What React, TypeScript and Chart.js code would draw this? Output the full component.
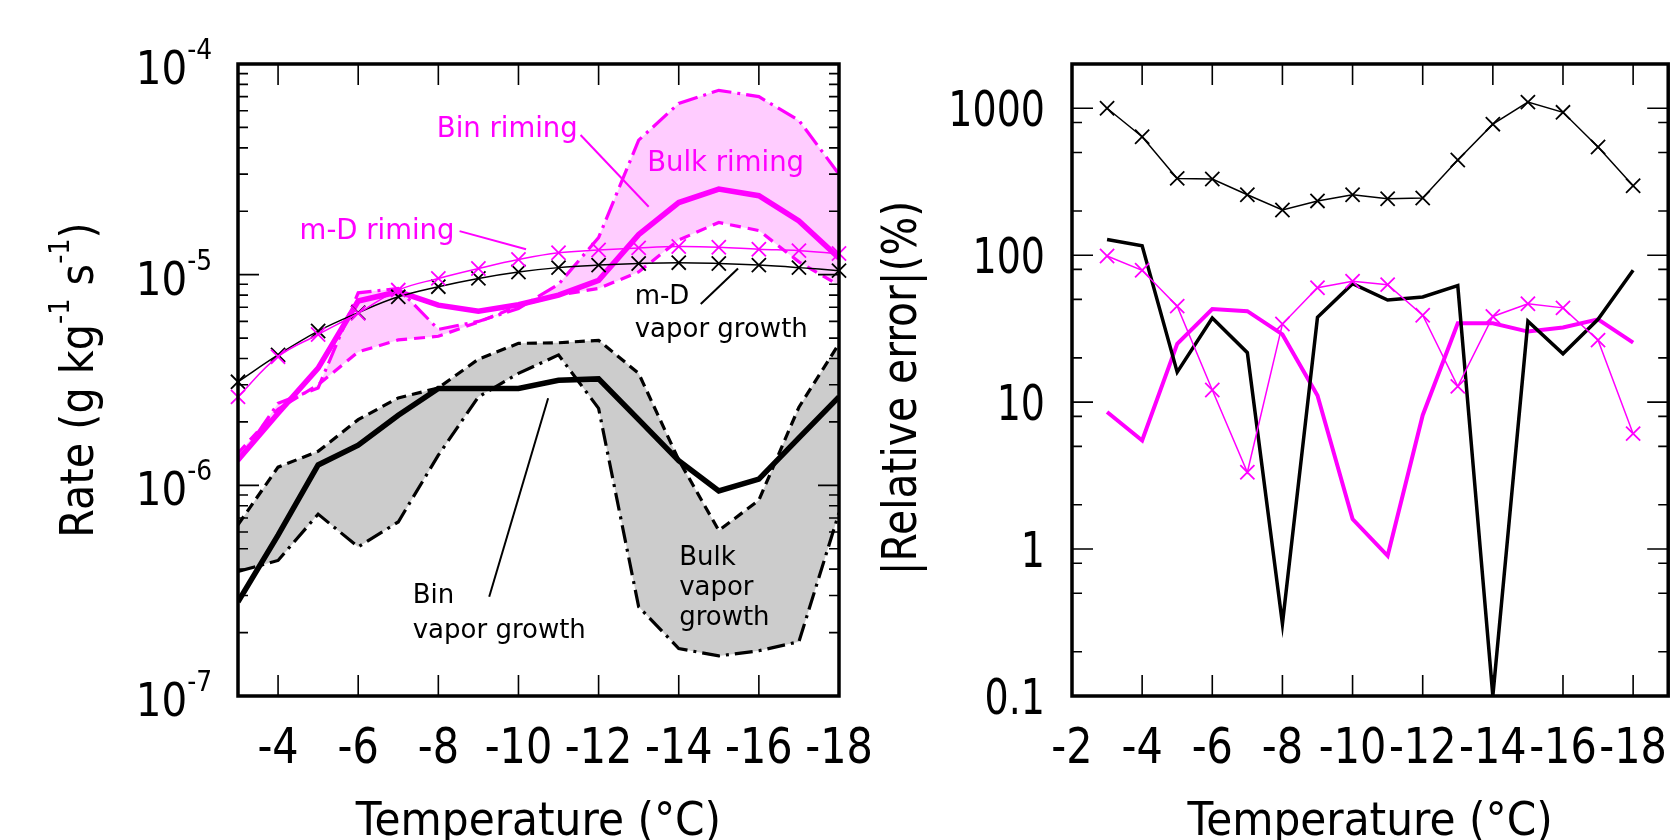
import React, { useEffect, useRef } from "react";
import { Chart, registerables } from "chart.js";

Chart.register(...registerables);

const FONT = '"DejaVu Sans", "Noto Sans", sans-serif';
const MAGENTA = "#ff00ff";
const BLACK = "#000000";

// Temperatures (°C) of the evaluated points
const temperatures = [-3, -4, -5, -6, -7, -8, -9, -10, -11, -12, -13, -14, -15, -16, -17, -18];

// Vapor growth rates (g kg-1 s-1)
const binVaporGrowth = [2.8e-7, 5.8e-7, 1.25e-6, 1.55e-6, 2.15e-6, 2.88e-6, 2.88e-6, 2.88e-6, 3.15e-6, 3.2e-6, 2.05e-6, 1.31e-6, 9.4e-7, 1.07e-6, 1.68e-6, 2.63e-6];
const bulkVaporGrowthA = [6.5e-7, 1.22e-6, 1.45e-6, 2.05e-6, 2.6e-6, 2.9e-6, 3.97e-6, 4.72e-6, 4.75e-6, 4.88e-6, 3.4e-6, 1.32e-6, 6.1e-7, 8.5e-7, 2.35e-6, 4.7e-6];
const bulkVaporGrowthB = [3.9e-7, 4.4e-7, 7.3e-7, 5.1e-7, 6.7e-7, 1.39e-6, 2.63e-6, 3.4e-6, 4.16e-6, 2.32e-6, 2.65e-7, 1.68e-7, 1.55e-7, 1.64e-7, 1.81e-7, 7.4e-7];
const mdVaporGrowth = [3.1e-6, 4.16e-6, 5.4e-6, 6.6e-6, 7.85e-6, 8.77e-6, 9.6e-6, 1.03e-5, 1.08e-5, 1.11e-5, 1.13e-5, 1.14e-5, 1.13e-5, 1.11e-5, 1.08e-5, 1.045e-5];

// Riming rates (g kg-1 s-1)
const binRiming = [1.32e-6, 2.2e-6, 3.6e-6, 7.5e-6, 8.3e-6, 7.17e-6, 6.7e-6, 7.2e-6, 8.0e-6, 9.4e-6, 1.55e-5, 2.2e-5, 2.55e-5, 2.37e-5, 1.8e-5, 1.2e-5];
const bulkRimingA = [1.42e-6, 2.3e-6, 3.0e-6, 4.3e-6, 4.9e-6, 5.1e-6, 5.96e-6, 7.1e-6, 8.0e-6, 8.6e-6, 1.03e-5, 1.46e-5, 1.77e-5, 1.62e-5, 1.15e-5, 8.9e-6];
const bulkRimingB = [1.3e-6, 2.45e-6, 2.9e-6, 8.2e-6, 8.6e-6, 5.5e-6, 6.0e-6, 6.9e-6, 9.0e-6, 1.5e-5, 4.35e-5, 6.5e-5, 7.5e-5, 7.0e-5, 5.4e-5, 3.0e-5];
const mdRiming = [2.63e-6, 4.08e-6, 5.2e-6, 6.56e-6, 8.45e-6, 9.6e-6, 1.07e-5, 1.18e-5, 1.27e-5, 1.31e-5, 1.34e-5, 1.36e-5, 1.35e-5, 1.32e-5, 1.3e-5, 1.26e-5];

// |Relative error| (%) against the bin scheme
const mdVaporError = [1000, 640, 333, 330, 258, 203, 234, 258, 242, 245, 444, 779, 1100, 938, 545, 297];
const bulkVaporError = [128, 116, 16, 37.3, 21.7, 0.31, 37.8, 64, 49.5, 52, 62, 0.1, 35.5, 21.3, 36.6, 78.9];
const bulkRimingError = [8.57, 5.48, 24.9, 43, 41.6, 28.9, 11.1, 1.6, 0.9, 8.15, 34.4, 34.4, 30.2, 32.2, 36.6, 25.4];
const mdRimingError = [98.7, 78.9, 45, 12.1, 3.33, 34, 60, 66.4, 63, 39, 12.8, 38.3, 46.7, 43.8, 26.4, 6.1];

// Axis ticks
const rateExponents = [-7, -6, -5, -4];
const leftTempTicks = [-4, -6, -8, -10, -12, -14, -16, -18];
const rightTempTicks = [-2, -4, -6, -8, -10, -12, -14, -16, -18];
const errorTicks = [0.1, 1, 10, 100, 1000];
const errorTickLabels = ["0.1", "1", "10", "100", "1000"];

type Run = { t: string; sup?: boolean };
type TextStyle = { size: number; supSize?: number; rise?: number; sx: number; color: string };
type Note = { text: string; t: number; v: number; align: "left" | "center"; color: string; size: number };
type Leader = { t1: number; v1: number; t2: number; v2: number; color: string };

// Labels placed in data coordinates (temperature, rate)
const rateNotes: Note[] = [
  { text: "Bin riming", t: -9.72, v: 4.49e-5, align: "center", color: MAGENTA, size: 27.5 },
  { text: "Bulk riming", t: -15.17, v: 3.12e-5, align: "center", color: MAGENTA, size: 27.5 },
  { text: "m-D riming", t: -6.47, v: 1.47e-5, align: "center", color: MAGENTA, size: 27.5 },
  { text: "m-D", t: -12.9, v: 7.26e-6, align: "left", color: BLACK, size: 26 },
  { text: "vapor growth", t: -12.9, v: 5.04e-6, align: "left", color: BLACK, size: 26 },
  { text: "Bin", t: -7.36, v: 2.75e-7, align: "left", color: BLACK, size: 26 },
  { text: "vapor growth", t: -7.36, v: 1.88e-7, align: "left", color: BLACK, size: 26 },
  { text: "Bulk", t: -14.01, v: 4.19e-7, align: "left", color: BLACK, size: 26 },
  { text: "vapor", t: -14.01, v: 3.02e-7, align: "left", color: BLACK, size: 26 },
  { text: "growth", t: -14.01, v: 2.17e-7, align: "left", color: BLACK, size: 26 },
];
const rateLeaders: Leader[] = [
  { t1: -11.55, v1: 4.6e-5, t2: -13.25, v2: 2.1e-5, color: MAGENTA },
  { t1: -8.53, v1: 1.61e-5, t2: -10.19, v2: 1.32e-5, color: MAGENTA },
  { t1: -14.55, v1: 7.26e-6, t2: -15.48, v2: 1.07e-5, color: BLACK },
  { t1: -9.27, v1: 2.96e-7, t2: -10.74, v2: 2.59e-6, color: BLACK },
];

const fontOf = (size: number) => `${size}px ${FONT}`;

function drawRuns(ctx: CanvasRenderingContext2D, runs: Run[], x: number, y: number, align: "left" | "center" | "right", st: TextStyle) {
  const widths = runs.map((r) => {
    ctx.font = fontOf(r.sup ? st.supSize! : st.size);
    return ctx.measureText(r.t).width * st.sx;
  });
  const total = widths.reduce((a, b) => a + b, 0);
  let cx = align === "left" ? x : align === "center" ? x - total / 2 : x - total;
  ctx.fillStyle = st.color;
  ctx.textAlign = "left";
  ctx.textBaseline = "alphabetic";
  runs.forEach((r, i) => {
    ctx.save();
    ctx.font = fontOf(r.sup ? st.supSize! : st.size);
    ctx.translate(cx, y - (r.sup ? st.rise! : 0));
    ctx.scale(st.sx, 1);
    ctx.fillText(r.t, 0, 0);
    ctx.restore();
    cx += widths[i];
  });
}

interface PanelSpec {
  xTicks: number[];
  yMajor: number[];
  yMinor: number[];
  yLabels: Run[][];
  yLabelStyle: TextStyle;
  yLabelGap: number;
  yLabelDrop: number;
  yTitle: Run[];
  yTitleX: number;
  yTitleY: number;
  yTitleStyle: TextStyle;
  notes?: Note[];
  leaders?: Leader[];
}

const xLabelStyle: TextStyle = { size: 49, sx: 0.845, color: BLACK };
const xTitleStyle: TextStyle = { size: 46, sx: 0.92, color: BLACK };

function framePlugin(spec: PanelSpec) {
  return {
    id: "frame",
    afterDatasetsDraw(chart: any) {
      const { ctx, chartArea: a, scales } = chart;
      const xs = scales.x;
      const ys = scales.y;
      ctx.save();

      // leader lines and notes
      (spec.leaders || []).forEach((l) => {
        ctx.beginPath();
        ctx.strokeStyle = l.color;
        ctx.lineWidth = 2;
        ctx.moveTo(xs.getPixelForValue(l.t1), ys.getPixelForValue(l.v1));
        ctx.lineTo(xs.getPixelForValue(l.t2), ys.getPixelForValue(l.v2));
        ctx.stroke();
      });
      (spec.notes || []).forEach((n) => {
        drawRuns(ctx, [{ t: n.text }], xs.getPixelForValue(n.t), ys.getPixelForValue(n.v), n.align, {
          size: n.size,
          sx: 1,
          color: n.color,
        });
      });

      // inward ticks on all four sides
      ctx.strokeStyle = BLACK;
      ctx.lineWidth = 1.6;
      ctx.beginPath();
      spec.xTicks.forEach((t) => {
        const px = xs.getPixelForValue(t);
        ctx.moveTo(px, a.bottom);
        ctx.lineTo(px, a.bottom - 21);
        ctx.moveTo(px, a.top);
        ctx.lineTo(px, a.top + 21);
      });
      const yTick = (v: number, len: number) => {
        const py = ys.getPixelForValue(v);
        ctx.moveTo(a.left, py);
        ctx.lineTo(a.left + len, py);
        ctx.moveTo(a.right, py);
        ctx.lineTo(a.right - len, py);
      };
      spec.yMajor.forEach((v) => yTick(v, 21));
      spec.yMinor.forEach((v) => yTick(v, 10));
      ctx.stroke();

      // frame
      ctx.lineWidth = 3.5;
      ctx.strokeRect(a.left, a.top, a.right - a.left, a.bottom - a.top);

      // tick labels
      spec.xTicks.forEach((t) => {
        drawRuns(ctx, [{ t: String(t) }], xs.getPixelForValue(t), a.bottom + 67, "center", xLabelStyle);
      });
      spec.yMajor.forEach((v, i) => {
        drawRuns(ctx, spec.yLabels[i], a.left - spec.yLabelGap, ys.getPixelForValue(v) + spec.yLabelDrop, "right", spec.yLabelStyle);
      });

      // axis titles
      drawRuns(ctx, [{ t: "Temperature (°C)" }], (a.left + a.right) / 2, a.bottom + 139, "center", xTitleStyle);
      ctx.save();
      ctx.translate(spec.yTitleX, spec.yTitleY);
      ctx.rotate(-Math.PI / 2);
      drawRuns(ctx, spec.yTitle, 0, 0, "center", spec.yTitleStyle);
      ctx.restore();

      ctx.restore();
    },
  };
}

const pts = (vals: number[]) => temperatures.map((t, i) => ({ x: t, y: vals[i] }));

const plain = (vals: number[], color: string, width: number, dash: number[] = []) => ({
  data: pts(vals),
  borderColor: color,
  backgroundColor: color,
  borderWidth: width,
  borderDash: dash,
  pointRadius: 0,
  pointHoverRadius: 0,
  tension: 0,
  fill: false as any,
});

const marked = (vals: number[], color: string, tension: number) => ({
  data: pts(vals),
  borderColor: color,
  backgroundColor: color,
  borderWidth: 1.5,
  pointStyle: "crossRot",
  pointRadius: 10,
  pointHoverRadius: 10,
  pointBorderWidth: 1.8,
  pointBorderColor: color,
  tension,
  fill: false,
  clip: { left: 12, right: 12, top: 0, bottom: 0 },
});

const baseOptions = (padding: any, x: any, y: any) => ({
  animation: false,
  responsive: true,
  maintainAspectRatio: false,
  events: [],
  layout: { padding },
  scales: { x, y },
  plugins: {
    legend: { display: false },
    tooltip: { enabled: false },
    filler: { drawTime: "beforeDatasetsDraw" },
  },
});

const rateMinor: number[] = [];
rateExponents.slice(0, 3).forEach((e) => {
  for (let k = 2; k <= 9; k++) rateMinor.push(k * Math.pow(10, e));
});
const errorMinor: number[] = [];
errorTicks.forEach((d) => [2, 5, 8].forEach((k) => { if (k * d < 2000) errorMinor.push(k * d); }));

function leftConfig(): any {
  const dsRimA = plain(bulkRimingA, MAGENTA, 3.2, [11, 7]);
  const dsRimB = { ...plain(bulkRimingB, MAGENTA, 3.2, [20, 6, 3, 6]), fill: 4, backgroundColor: "#ffccff" };
  const dsVapA = plain(bulkVaporGrowthA, BLACK, 3.2, [10, 6]);
  const dsVapB = { ...plain(bulkVaporGrowthB, BLACK, 3.2, [18, 6, 3, 6]), fill: 6, backgroundColor: "#cccccc" };
  return {
    type: "line",
    data: {
      datasets: [
        marked(mdRiming, MAGENTA, 0.4),
        marked(mdVaporGrowth, BLACK, 0.4),
        plain(binRiming, MAGENTA, 5.5),
        plain(binVaporGrowth, BLACK, 5.5),
        dsRimA,
        dsRimB,
        dsVapA,
        dsVapB,
      ],
    },
    options: baseOptions(
      { left: 238, right: 41, top: 64, bottom: 144 },
      { type: "linear", min: -18, max: -3, reverse: true, display: false },
      { type: "logarithmic", min: 1e-7, max: 1e-4, display: false }
    ),
    plugins: [
      framePlugin({
        xTicks: leftTempTicks,
        yMajor: rateExponents.map((e) => Math.pow(10, e)),
        yMinor: rateMinor,
        yLabels: rateExponents.map((e) => [{ t: "10" }, { t: String(e), sup: true }]),
        yLabelStyle: { size: 47, supSize: 29, rise: 25, sx: 0.86, color: BLACK },
        yLabelGap: 26,
        yLabelDrop: 20,
        yTitle: [{ t: "Rate (g kg" }, { t: "-1", sup: true }, { t: " s" }, { t: "-1", sup: true }, { t: ")" }],
        yTitleX: 93,
        yTitleY: 380,
        yTitleStyle: { size: 47, supSize: 29, rise: 24, sx: 0.88, color: BLACK },
        notes: rateNotes,
        leaders: rateLeaders,
      }),
    ],
  };
}

function rightConfig(): any {
  return {
    type: "line",
    data: {
      datasets: [
        marked(mdRimingError, MAGENTA, 0),
        marked(mdVaporError, BLACK, 0),
        plain(bulkVaporError, BLACK, 3.5),
        plain(bulkRimingError, MAGENTA, 4),
      ],
    },
    options: baseOptions(
      { left: 192, right: 7, top: 64, bottom: 144 },
      { type: "linear", min: -19, max: -2, reverse: true, display: false },
      { type: "logarithmic", min: 0.1, max: 2000, display: false }
    ),
    plugins: [
      framePlugin({
        xTicks: rightTempTicks,
        yMajor: errorTicks,
        yMinor: errorMinor,
        yLabels: errorTickLabels.map((s) => [{ t: s }]),
        yLabelStyle: { size: 50, sx: 0.76, color: BLACK },
        yLabelGap: 27,
        yLabelDrop: 18,
        yTitle: [{ t: "|Relative error|(%)" }],
        yTitleX: 36,
        yTitleY: 388,
        yTitleStyle: { size: 48, sx: 0.85, color: BLACK },
      }),
    ],
  };
}

export default function App() {
  const leftRef = useRef<HTMLCanvasElement>(null);
  const rightRef = useRef<HTMLCanvasElement>(null);

  useEffect(() => {
    const left = new Chart(leftRef.current!, leftConfig());
    const right = new Chart(rightRef.current!, rightConfig());
    return () => {
      left.destroy();
      right.destroy();
    };
  }, []);

  return (
    <div style={{ position: "fixed", left: 0, top: 0, width: 1680, height: 840, background: "#ffffff" }}>
      <div style={{ position: "absolute", left: 0, top: 0, width: 880, height: 840 }}>
        <canvas ref={leftRef} />
      </div>
      <div style={{ position: "absolute", left: 880, top: 0, width: 800, height: 840 }}>
        <canvas ref={rightRef} />
      </div>
    </div>
  );
}
